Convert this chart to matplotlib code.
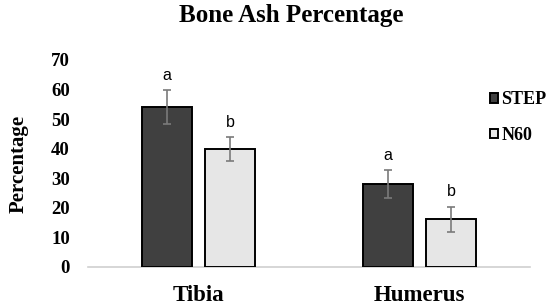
import matplotlib
matplotlib.use("Agg")
import matplotlib.pyplot as plt
import numpy as np

categories = ["Tibia", "Humerus"]
series_names = ["STEP", "N60"]
step_vals = [54.0, 28.0]
n60_vals = [39.8, 16.2]
step_err = [5.8, 4.7]
n60_err = [4.1, 4.2]
step_letters = ["a", "a"]
n60_letters = ["b", "b"]
yticks = [0, 10, 20, 30, 40, 50, 60, 70]

fig = plt.figure(figsize=(5.5, 3.07), dpi=100)
ax = fig.add_axes([0.16, 0.1303, 0.8036, 0.6743])

x = np.arange(len(categories))
w = 0.226
off = 0.143
serif = ["Liberation Serif", "DejaVu Serif"]

b1 = ax.bar(x - off, step_vals, w, color="#404040", edgecolor="black", linewidth=1.4,
            yerr=step_err, error_kw=dict(ecolor="#7a7a7a", elinewidth=1.2, capsize=3, capthick=1.2),
            label=series_names[0], zorder=3)
b2 = ax.bar(x + off, n60_vals, w, color="#e6e6e6", edgecolor="black", linewidth=1.4,
            yerr=n60_err, error_kw=dict(ecolor="#7a7a7a", elinewidth=1.2, capsize=3, capthick=1.2),
            label=series_names[1], zorder=3)

for xi, v, e, l in zip(x - off, step_vals, step_err, step_letters):
    ax.text(xi, v + e + 2.5, l, ha="center", va="bottom", fontsize=11.5, family="Liberation Sans")
for xi, v, e, l in zip(x + off, n60_vals, n60_err, n60_letters):
    ax.text(xi, v + e + 2.5, l, ha="center", va="bottom", fontsize=11.5, family="Liberation Sans")

ax.set_xlim(-0.5, 1.5)
ax.set_ylim(0, 70)
ax.set_yticks(yticks)
ax.set_yticklabels([str(t) for t in yticks], fontsize=13.5, fontweight="bold", family=serif)
ax.set_xticks(x)
ax.set_xticklabels(categories, fontsize=16.5, fontweight="bold", family=serif)
ax.tick_params(axis="both", length=0)
ax.tick_params(axis="y", pad=13)
ax.tick_params(axis="x", pad=13)
for s in ["top", "right", "left"]:
    ax.spines[s].set_visible(False)
ax.spines["bottom"].set_color("#d0d0d0")
ax.spines["bottom"].set_linewidth(1.2)

ax.set_ylabel("Percentage", fontsize=15, fontweight="bold", family=serif, labelpad=16)
fig.text(0.53, 0.95, "Bone Ash Percentage", ha="center", va="center",
         fontsize=18, fontweight="bold", family=serif)

leg = fig.legend(handles=[b1, b2], labels=series_names, loc="upper left",
                 bbox_to_anchor=(0.862, 0.755), frameon=False,
                 prop=dict(family=serif, weight="bold", size=13),
                 handlelength=0.4, handleheight=0.4, handletextpad=0.2, labelspacing=1.0)

fig.savefig("out.png", dpi=100)
